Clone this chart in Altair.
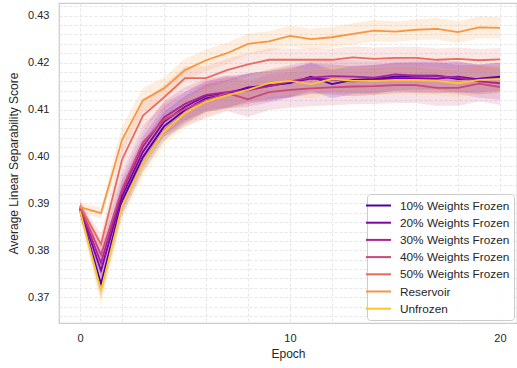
import altair as alt
import pandas as pd

# Epochs on the x axis
epochs = list(range(21))

series_names = [
    "10% Weights Frozen",
    "20% Weights Frozen",
    "30% Weights Frozen",
    "40% Weights Frozen",
    "50% Weights Frozen",
    "Reservoir",
    "Unfrozen",
]
palette = ["#4c02a1", "#7e03a8", "#a92395", "#cc4778", "#e66c5c", "#f89540", "#fdc527"]

# Mean linear separability score per epoch
frozen_10 = [0.3885, 0.3728, 0.3905, 0.3999, 0.4064, 0.4099, 0.4124, 0.4133, 0.4147, 0.4152, 0.4156,
             0.4170, 0.4154, 0.4163, 0.4165, 0.4170, 0.4172, 0.4172, 0.4165, 0.4166, 0.4170]
frozen_20 = [0.3888, 0.3757, 0.3915, 0.4010, 0.4074, 0.4106, 0.4129, 0.4136, 0.4145, 0.4150, 0.4158,
             0.4166, 0.4164, 0.4160, 0.4163, 0.4167, 0.4167, 0.4166, 0.4170, 0.4164, 0.4168]
frozen_30 = [0.3890, 0.3773, 0.3925, 0.4021, 0.4083, 0.4112, 0.4131, 0.4137, 0.4141, 0.4150, 0.4160,
             0.4168, 0.4171, 0.4170, 0.4168, 0.4175, 0.4172, 0.4171, 0.4168, 0.4160, 0.4156]
frozen_40 = [0.3893, 0.3790, 0.3930, 0.4030, 0.4078, 0.4101, 0.4120, 0.4135, 0.4122, 0.4137, 0.4142,
             0.4145, 0.4147, 0.4149, 0.4150, 0.4152, 0.4152, 0.4146, 0.4146, 0.4155, 0.4148]
frozen_50 = [0.3895, 0.3813, 0.3993, 0.4087, 0.4126, 0.4167, 0.4167, 0.4184, 0.4196, 0.4206, 0.4206,
             0.4206, 0.4206, 0.4211, 0.4208, 0.4210, 0.4210, 0.4206, 0.4208, 0.4205, 0.4207]
reservoir = [0.3892, 0.3879, 0.4035, 0.4120, 0.4145, 0.4184, 0.4205, 0.4220, 0.4240, 0.4245, 0.4257,
             0.4250, 0.4254, 0.4261, 0.4268, 0.4266, 0.4270, 0.4272, 0.4265, 0.4275, 0.4274]
unfrozen = [0.3884, 0.3714, 0.3895, 0.3985, 0.4053, 0.4092, 0.4117, 0.4130, 0.4142, 0.4156, 0.4161,
            0.4154, 0.4165, 0.4161, 0.4161, 0.4162, 0.4162, 0.4161, 0.4156, 0.4163, 0.4165]

# Half-width of the confidence band per epoch
ci_10 = [0.0012, 0.0030, 0.0032, 0.0032, 0.0031, 0.0030, 0.0030, 0.0030, 0.0030, 0.0030, 0.0030,
         0.0030, 0.0030, 0.0030, 0.0030, 0.0030, 0.0030, 0.0030, 0.0030, 0.0030, 0.0030]
ci_20 = [0.0012, 0.0030, 0.0033, 0.0033, 0.0032, 0.0032, 0.0032, 0.0032, 0.0032, 0.0032, 0.0032,
         0.0032, 0.0032, 0.0032, 0.0032, 0.0032, 0.0032, 0.0032, 0.0032, 0.0032, 0.0032]
ci_30 = [0.0012, 0.0030, 0.0035, 0.0035, 0.0035, 0.0035, 0.0035, 0.0035, 0.0035, 0.0035, 0.0035,
         0.0035, 0.0035, 0.0035, 0.0035, 0.0035, 0.0035, 0.0035, 0.0035, 0.0035, 0.0035]
ci_40 = [0.0012, 0.0028, 0.0036, 0.0036, 0.0036, 0.0037, 0.0038, 0.0038, 0.0038, 0.0038, 0.0038,
         0.0038, 0.0038, 0.0038, 0.0038, 0.0038, 0.0038, 0.0038, 0.0038, 0.0038, 0.0038]
ci_50 = [0.0010, 0.0022, 0.0030, 0.0028, 0.0026, 0.0025, 0.0025, 0.0024, 0.0024, 0.0024, 0.0024,
         0.0024, 0.0024, 0.0024, 0.0024, 0.0024, 0.0024, 0.0024, 0.0024, 0.0024, 0.0024]
ci_res = [0.0010, 0.0012, 0.0028, 0.0026, 0.0024, 0.0024, 0.0023, 0.0023, 0.0022, 0.0022, 0.0022,
          0.0022, 0.0022, 0.0023, 0.0023, 0.0022, 0.0022, 0.0023, 0.0023, 0.0023, 0.0023]
ci_unf = [0.0012, 0.0035, 0.0032, 0.0030, 0.0030, 0.0030, 0.0030, 0.0030, 0.0030, 0.0030, 0.0030,
          0.0030, 0.0030, 0.0030, 0.0030, 0.0030, 0.0030, 0.0030, 0.0030, 0.0030, 0.0030]

means = [frozen_10, frozen_20, frozen_30, frozen_40, frozen_50, reservoir, unfrozen]
cis = [ci_10, ci_20, ci_30, ci_40, ci_50, ci_res, ci_unf]

rows = []
for name, mean, ci in zip(series_names, means, cis):
    for e, m, c in zip(epochs, mean, ci):
        rows.append({"series": name, "epoch": e, "value": m, "lo": m - c, "hi": m + c})
df = pd.DataFrame(rows)

FONT = "Liberation Sans"
TEXT = "#262626"
GRID = "#e3e3e3"

y_grid_values = [round(0.366 + 0.002 * k, 3) for k in range(34)]
x_grid_values = list(range(0, 21, 2))

x_enc = alt.X(
    "epoch:Q",
    scale=alt.Scale(domain=[-1, 20.81], nice=False, zero=False),
    axis=alt.Axis(
        values=x_grid_values,
        labelExpr="datum.value % 10 == 0 ? datum.label : ''",
        title="Epoch",
        ticks=False,
        domain=False,
        labelPadding=9,
        titlePadding=5,
    ),
)
y_axis = alt.Axis(
    values=y_grid_values,
    labelExpr="abs(datum.value * 100 - round(datum.value * 100)) < 1e-6 ? format(datum.value, '.2f') : ''",
    title="Average Linear Separability Score",
    ticks=False,
    domain=False,
    labelPadding=10,
    titlePadding=7,
)
y_scale = alt.Scale(domain=[0.3645, 0.4327], nice=False, zero=False)
series_scale = alt.Scale(domain=series_names, range=palette)

# One shared legend: line-shaped swatches in a framed box inside the plot
legend = alt.Legend(
    title=None,
    orient="none",
    legendX=308,
    legendY=191,
    symbolType="M-2,0H2",
    symbolSize=156,
    symbolStrokeWidth=2,
    labelFontSize=11.8,
    labelFont=FONT,
    labelColor=TEXT,
    labelOffset=14,
    fillColor="rgba(255,255,255,0.85)",
    strokeColor="#cccccc",
    cornerRadius=3,
    padding=4,
    rowPadding=2.2,
)

band = alt.Chart(df).mark_area(fillOpacity=0.16).encode(
    x=x_enc,
    y=alt.Y("lo:Q", scale=y_scale, axis=y_axis),
    y2="hi:Q",
    fill=alt.Fill("series:N", scale=series_scale, sort=series_names, legend=legend),
)

lines = alt.Chart(df).mark_line(strokeWidth=1.8).encode(
    x=x_enc,
    y=alt.Y("value:Q", scale=y_scale, axis=y_axis),
    color=alt.Color("series:N", scale=series_scale, sort=series_names, legend=legend),
)

chart = (
    alt.layer(band, lines)
    .properties(
        width=458,
        height=320,
        autosize=alt.AutoSizeParams(type="none"),
        padding={"left": 59, "top": 3, "right": 0, "bottom": 45},
        background="white",
    )
    .configure_view(stroke="#cccccc", strokeWidth=1.25)
    .configure_axis(
        grid=True,
        gridColor=GRID,
        gridDash=[3, 2],
        gridWidth=0.9,
        labelFont=FONT,
        labelFontSize=11,
        labelColor=TEXT,
        titleFont=FONT,
        titleFontSize=12,
        titleFontWeight="normal",
        titleColor=TEXT,
    )
)

chart.save("out.html", embed_options={"renderer": "svg", "actions": False})
